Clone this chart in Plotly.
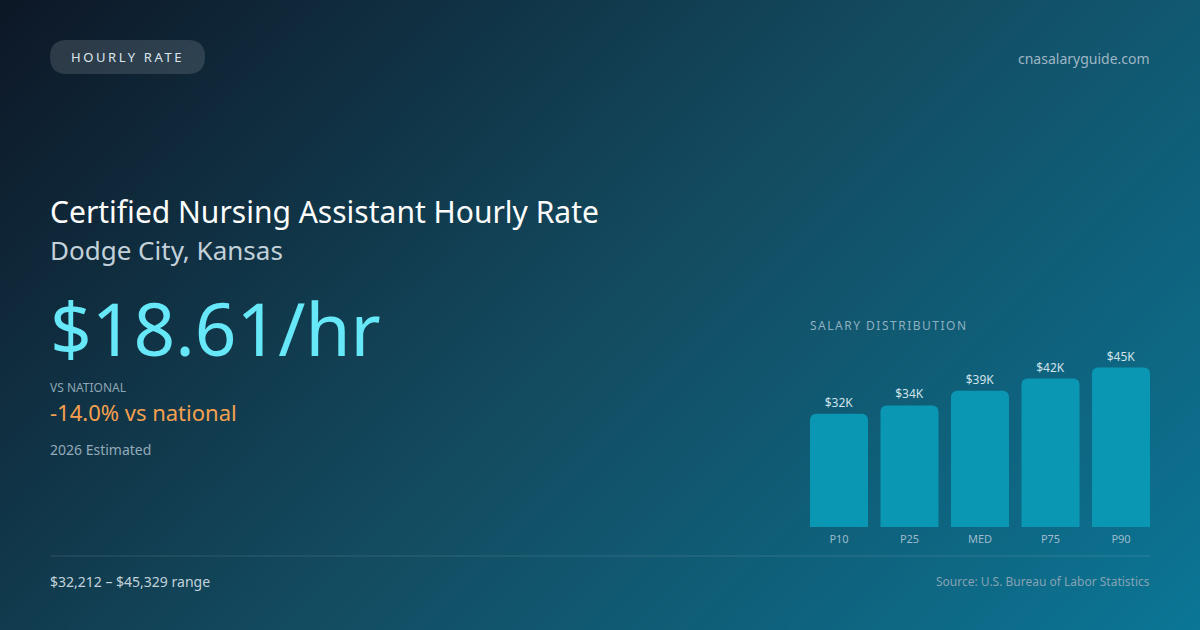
import numpy as np
import plotly.graph_objects as go

W, H = 1200, 630

# salary distribution (annual, USD)
pct_labels = ["P10", "P25", "MED", "P75", "P90"]
pct_values = [32212, 34560, 38710, 42190, 45329]
bar_text = ["$32K", "$34K", "$39K", "$42K", "$45K"]

hourly_rate = "$18.61/hr"
vs_national = "-14.0% vs national"
range_text = "$32,212 – $45,329 range"

FONT = "Noto Sans"


def py(pix):
    # pixel row (from top) -> paper fraction
    return (H - pix) / H


fig = go.Figure()

# background gradient (135deg), drawn on a full-size pixel axis
gx = np.linspace(0, W, 61)
gy = np.linspace(0, H, 33)
XX, YY = np.meshgrid(gx, gy)
diag = (W + H) * 0.7071
t = ((XX - W / 2) * 0.7071 + (YY - H / 2) * 0.7071) / diag + 0.5
fig.add_trace(go.Heatmap(
    x=gx, y=gy, z=t, zmin=0, zmax=1, zsmooth="best", showscale=False,
    colorscale=[[0, "#0d1726"], [0.5, "#134b60"], [1, "#0b7696"]],
    hoverinfo="skip", xaxis="x", yaxis="y",
))

# salary bars
fig.add_trace(go.Bar(
    x=pct_labels, y=pct_values, text=bar_text, textposition="outside",
    textfont=dict(family=FONT, size=12, color="#cfe3ea"),
    marker=dict(color="#0a97b3", cornerradius=6, line=dict(width=0)),
    cliponaxis=False, hoverinfo="skip", xaxis="x2", yaxis="y2",
))

bar_bottom, bar_scale = 527, 0.003518
top_px = 352
fig.update_layout(
    width=W, height=H, margin=dict(l=0, r=0, t=0, b=0),
    paper_bgcolor="#0f2f40", plot_bgcolor="rgba(0,0,0,0)",
    showlegend=False, bargap=12.5 / 70.5,
    xaxis=dict(domain=[0, 1], range=[0, W], visible=False, fixedrange=True),
    yaxis=dict(domain=[0, 1], range=[H, 0], visible=False, fixedrange=True),
    xaxis2=dict(domain=[803.75 / W, 1156.25 / W], anchor="y2",
                showgrid=False, zeroline=False, showline=False, ticks="",
                tickfont=dict(family=FONT, size=11, color="#9cbccb"),
                ticklabelstandoff=4, fixedrange=True),
    yaxis2=dict(domain=[py(bar_bottom), py(top_px)], anchor="x2",
                range=[0, (bar_bottom - top_px) / bar_scale], visible=False,
                fixedrange=True),
)

shapes = [
    # pill
    dict(type="path", xref="x", yref="y",
         path="M 67,40 H 188 Q 205,40 205,57 Q 205,74 188,74 H 67 Q 50,74 50,57 Q 50,40 67,40 Z",
         fillcolor="rgba(255,255,255,0.13)", line=dict(width=0), layer="above"),
    # footer rule
    dict(type="line", xref="x", yref="y", x0=50, x1=1150, y0=556, y1=556,
         line=dict(color="rgba(255,255,255,0.13)", width=1)),
]
fig.update_layout(shapes=shapes)


def note(text, x, y, size, color, xanchor="left"):
    # annotations carry a couple of px of padding; compensate
    nudge = {"left": -2, "right": 2, "center": 0}[xanchor]
    fig.add_annotation(text=text, x=x + nudge, y=y, xref="x", yref="y", showarrow=False,
                       xanchor=xanchor, yanchor="middle",
                       font=dict(family=FONT, size=size, color=color))


note('<span style="letter-spacing:2.6px">HOURLY RATE</span>', 127.5, 57, 13, "#dbe6ee", "center")
note("cnasalaryguide.com", 1150, 58, 14, "#9fb6c4", "right")
note("Certified Nursing Assistant Hourly Rate", 50, 211, 30, "#ffffff")
note("Dodge City, Kansas", 50, 250, 26, "#c3d1da")
note(hourly_rate, 50, 327, 73, "#67e8f9")
note("VS NATIONAL", 50, 387, 12, "#8ea6b6")
note(vs_national, 50, 412, 22, "#f4a04e")
note("2026 Estimated", 50, 449, 14, "#93aab8")
note('<span style="letter-spacing:1.5px">SALARY DISTRIBUTION</span>', 810, 325, 12, "#8fb0c0")
note(range_text, 50, 581, 14, "#c3d3dc")
note("Source: U.S. Bureau of Labor Statistics", 1150, 581, 12, "#86a3b3", "right")

fig.write_html("out.html", config={"displayModeBar": False},
               post_script="document.body.style.margin='0';")
